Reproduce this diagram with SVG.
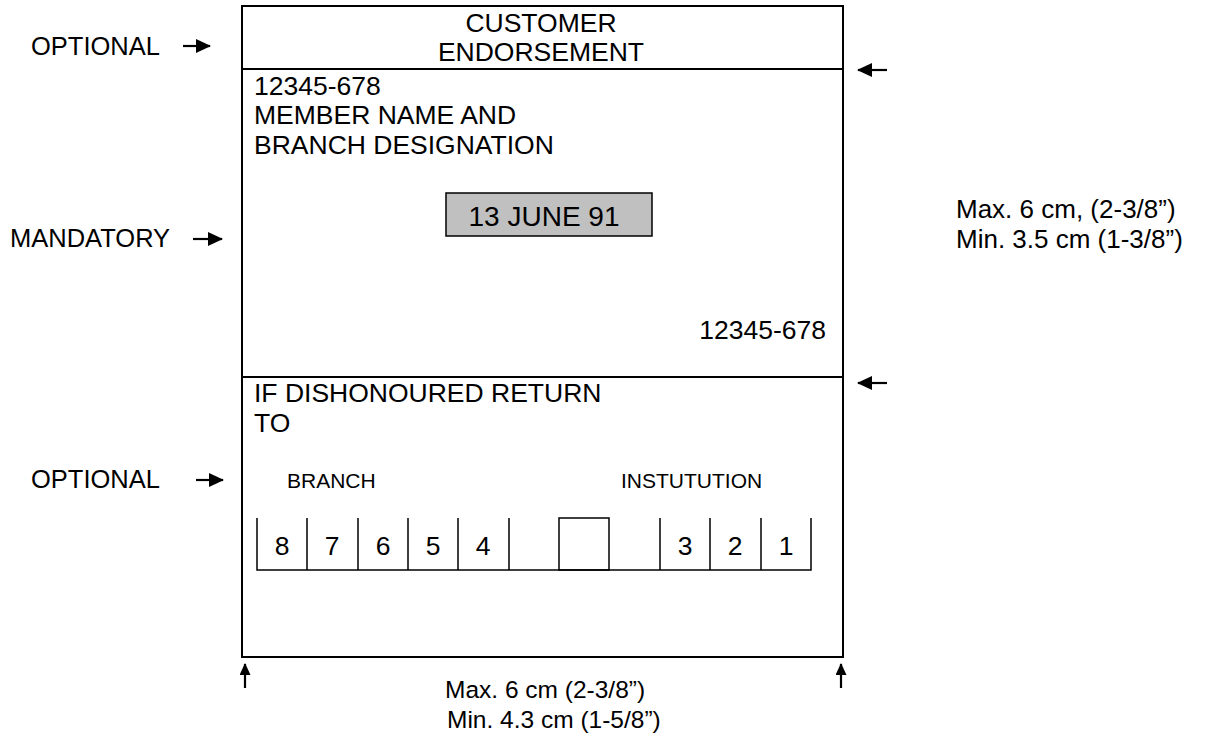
<svg xmlns="http://www.w3.org/2000/svg" width="1207" height="740" viewBox="0 0 1207 740">
<style>
text{font-family:"Liberation Sans",Arial,sans-serif;fill:#000}
.t{font-size:26.5px}
.s{font-size:21px}
.m{font-size:25.5px}
.r{font-size:26px}
.b{font-size:24.5px}
.ln{stroke:#000;stroke-width:2;fill:none}
.cell{stroke:#000;stroke-width:1.5;fill:none}
.arr{stroke:#000;stroke-width:2.2;fill:none}
</style>
<defs>
<marker id="ah" markerWidth="15" markerHeight="14" refX="14" refY="7" orient="auto" markerUnits="userSpaceOnUse" viewBox="0 0 15 14">
<path d="M0,0 L15,7 L0,14 z" fill="#000"/>
</marker>
<marker id="ahs" markerWidth="12" markerHeight="11" refX="11" refY="5.5" orient="auto" markerUnits="userSpaceOnUse" viewBox="0 0 12 11">
<path d="M0,0 L12,5.5 L0,11 z" fill="#000"/>
</marker>
</defs>
<rect width="1207" height="740" fill="#fff"/>
<g id="form">
<rect x="242" y="6" width="601" height="651" class="ln"/>
<line x1="242" y1="69" x2="843" y2="69" class="ln"/>
<line x1="242" y1="377" x2="843" y2="377" class="ln"/>
</g>
<g id="endorsement">
<text class="t" x="541" y="32" text-anchor="middle">CUSTOMER</text>
<text class="t" x="541" y="61" text-anchor="middle">ENDORSEMENT</text>
</g>
<g id="member">
<text class="t" x="254" y="95">12345-678</text>
<text class="t" x="254" y="124">MEMBER NAME AND</text>
<text class="t" x="254" y="154">BRANCH DESIGNATION</text>
<text class="t" x="826" y="339" text-anchor="end">12345-678</text>
</g>
<g id="date">
<rect x="446" y="193" width="206" height="43" fill="#c0c0c0" stroke="#000" stroke-width="1.5"/>
<text x="544" y="226" text-anchor="middle" font-size="28">13 JUNE 91</text>
</g>
<g id="return">
<text class="t" x="254" y="402">IF DISHONOURED RETURN</text>
<text class="t" x="254" y="432">TO</text>
<text class="s" x="287" y="488">BRANCH</text>
<text class="s" x="621" y="488">INSTUTUTION</text>
</g>
<g id="cells">
<path class="cell" d="M257,518 V570 H811 V518 M307,518 V570 M358,518 V570 M408,518 V570 M458,518 V570 M509,518 V570 M660,518 V570 M710,518 V570 M761,518 V570"/>
<rect x="559" y="518" width="50" height="52" class="cell"/>
<text class="t" x="282" y="555" text-anchor="middle">8</text>
<text class="t" x="332" y="555" text-anchor="middle">7</text>
<text class="t" x="383" y="555" text-anchor="middle">6</text>
<text class="t" x="433" y="555" text-anchor="middle">5</text>
<text class="t" x="483" y="555" text-anchor="middle">4</text>
<text class="t" x="685" y="555" text-anchor="middle">3</text>
<text class="t" x="735" y="555" text-anchor="middle">2</text>
<text class="t" x="786" y="555" text-anchor="middle">1</text>
</g>
<g id="labels">
<text class="m" x="31" y="55">OPTIONAL</text>
<text class="m" x="10" y="247">MANDATORY</text>
<text class="m" x="31" y="488">OPTIONAL</text>
<text class="r" x="956" y="218">Max. 6 cm, (2-3/8”)</text>
<text class="r" x="956" y="248">Min. 3.5 cm (1-3/8”)</text>
<text class="b" x="445" y="698">Max. 6 cm (2-3/8”)</text>
<text class="b" x="447" y="728">Min. 4.3 cm (1-5/8”)</text>
</g>
<g id="connectors">
<line x1="183" y1="46" x2="210" y2="46" class="arr" marker-end="url(#ah)"/>
<line x1="193" y1="239" x2="222" y2="239" class="arr" marker-end="url(#ah)"/>
<line x1="196" y1="480" x2="223" y2="480" class="arr" marker-end="url(#ah)"/>
<line x1="887" y1="70" x2="858" y2="70" class="arr" marker-end="url(#ah)"/>
<line x1="887" y1="383" x2="858" y2="383" class="arr" marker-end="url(#ah)"/>
<line x1="245" y1="688" x2="245" y2="664" class="arr" marker-end="url(#ahs)"/>
<line x1="841" y1="688" x2="841" y2="664" class="arr" marker-end="url(#ahs)"/>
</g>
</svg>
